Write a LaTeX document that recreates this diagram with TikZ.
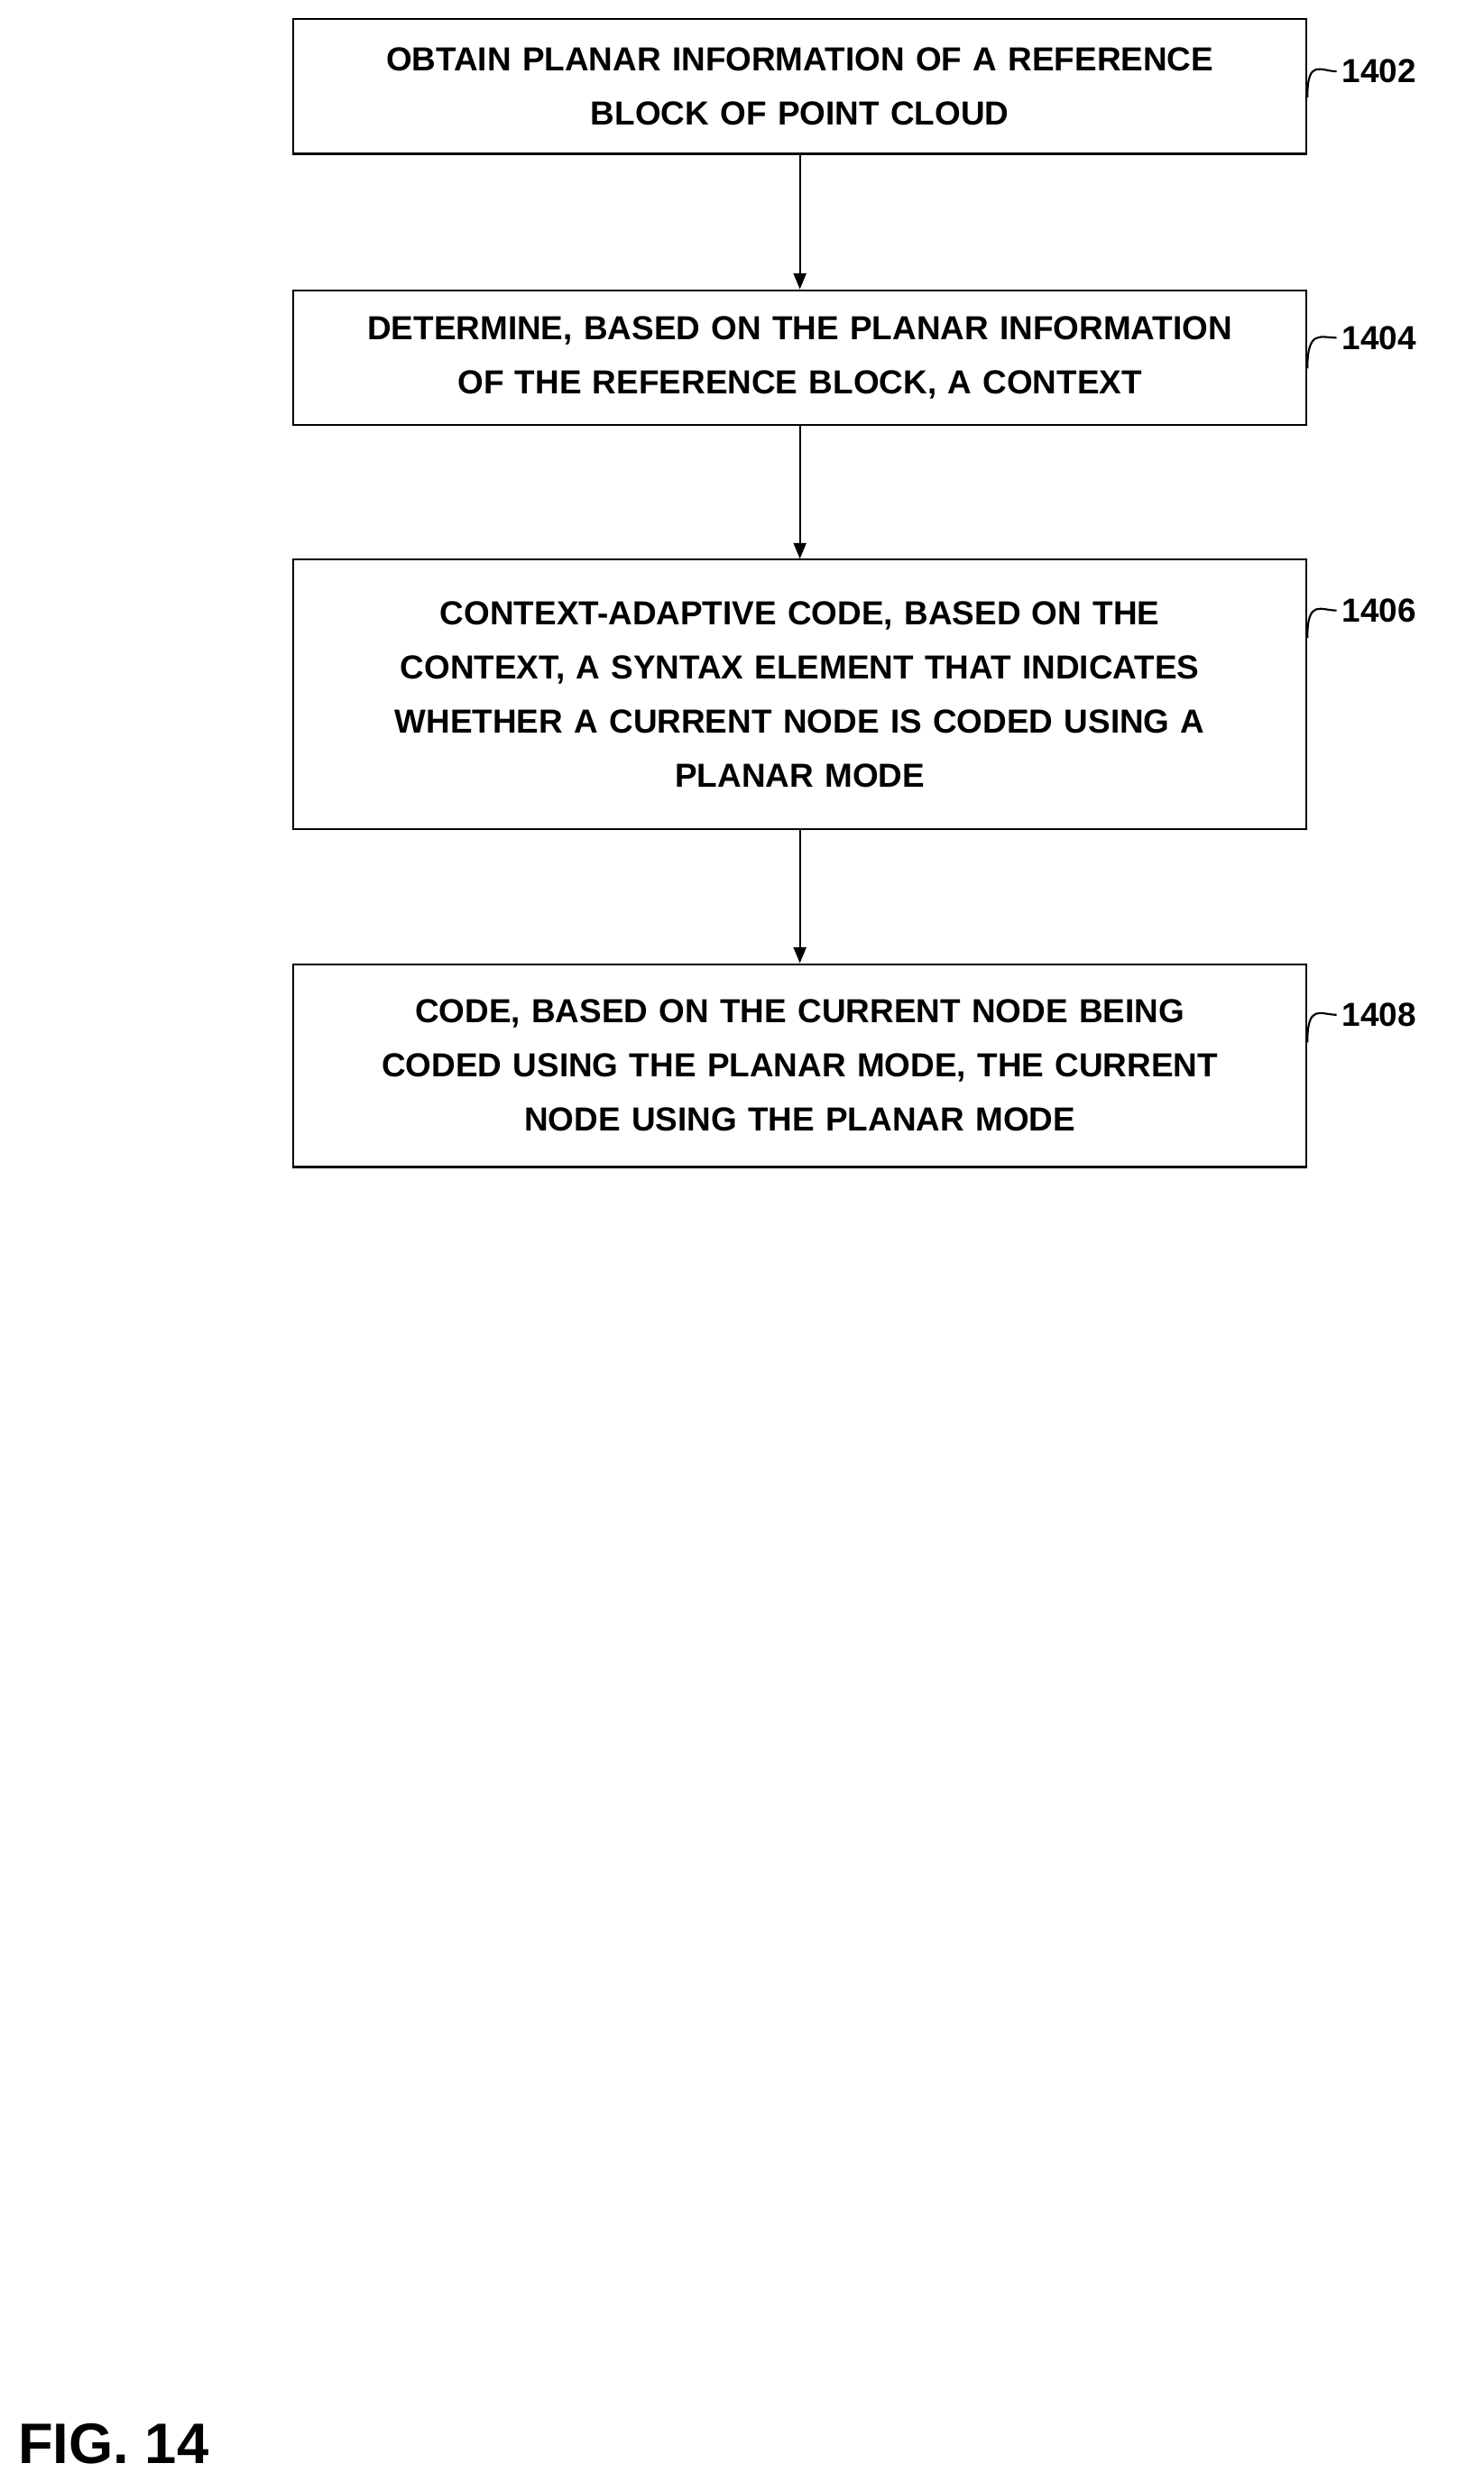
\documentclass[tikz,border=0pt]{standalone}
\usepackage{fontspec}
\setmainfont{Liberation Sans}
\usetikzlibrary{positioning,calc,arrows.meta}
\begin{document}
\begin{tikzpicture}[x=1pt,y=-1pt,
    stepbox/.style = {rectangle, draw, line width=1.2pt, align=center, minimum width=639pt, text width=620pt, font=\fontsize{21}{34}\selectfont\bfseries},
    reflabel/.style = {font=\fontsize{21}{25}\selectfont\bfseries, anchor=west},
    ]
        \useasboundingbox (0,0) rectangle (936,1571);

        % Nodes
        \node[stepbox, minimum height=85pt] (obtain) at (504.5,54.5) {OBTAIN PLANAR INFORMATION OF A REFERENCE\\BLOCK OF POINT CLOUD};
        \node[stepbox, minimum height=85pt] (determine) at (504.5,225.5) {DETERMINE, BASED ON THE PLANAR INFORMATION\\OF THE REFERENCE BLOCK, A CONTEXT};
        \node[stepbox, minimum height=170pt] (adaptive) at (504.5,438) {CONTEXT-ADAPTIVE CODE, BASED ON THE\\CONTEXT, A SYNTAX ELEMENT THAT INDICATES\\WHETHER A CURRENT NODE IS CODED USING A\\PLANAR MODE};
        \node[stepbox, minimum height=128pt] (code) at (504.5,672) {CODE, BASED ON THE CURRENT NODE BEING\\CODED USING THE PLANAR MODE, THE CURRENT\\NODE USING THE PLANAR MODE};
        %
        \node[reflabel] (l1402) at (843,45) {1402};
        \node[reflabel] (l1404) at (843,213) {1404};
        \node[reflabel] (l1406) at (843,385) {1406};
        \node[reflabel] (l1408) at (843,640) {1408};
        %
        \node[anchor=west, font=\fontsize{36}{40}\selectfont\bfseries] (fig) at (8,1541) {FIG. 14};

        % Draw
        \draw [-{Triangle[length=10pt,width=8pt]}, line width=1.2pt] (obtain) -- (determine);
        \draw [-{Triangle[length=10pt,width=8pt]}, line width=1.2pt] (determine) -- (adaptive);
        \draw [-{Triangle[length=10pt,width=8pt]}, line width=1.2pt] (adaptive) -- (code);
        \foreach \b/\l in {obtain/l1402, determine/l1404, adaptive/l1406, code/l1408}
            \draw [line width=1.2pt] ($(\b.north east)+(0,50)$) .. controls +(0,-25) and +(-10,0) .. (\l.west);
\end{tikzpicture}
\end{document}
